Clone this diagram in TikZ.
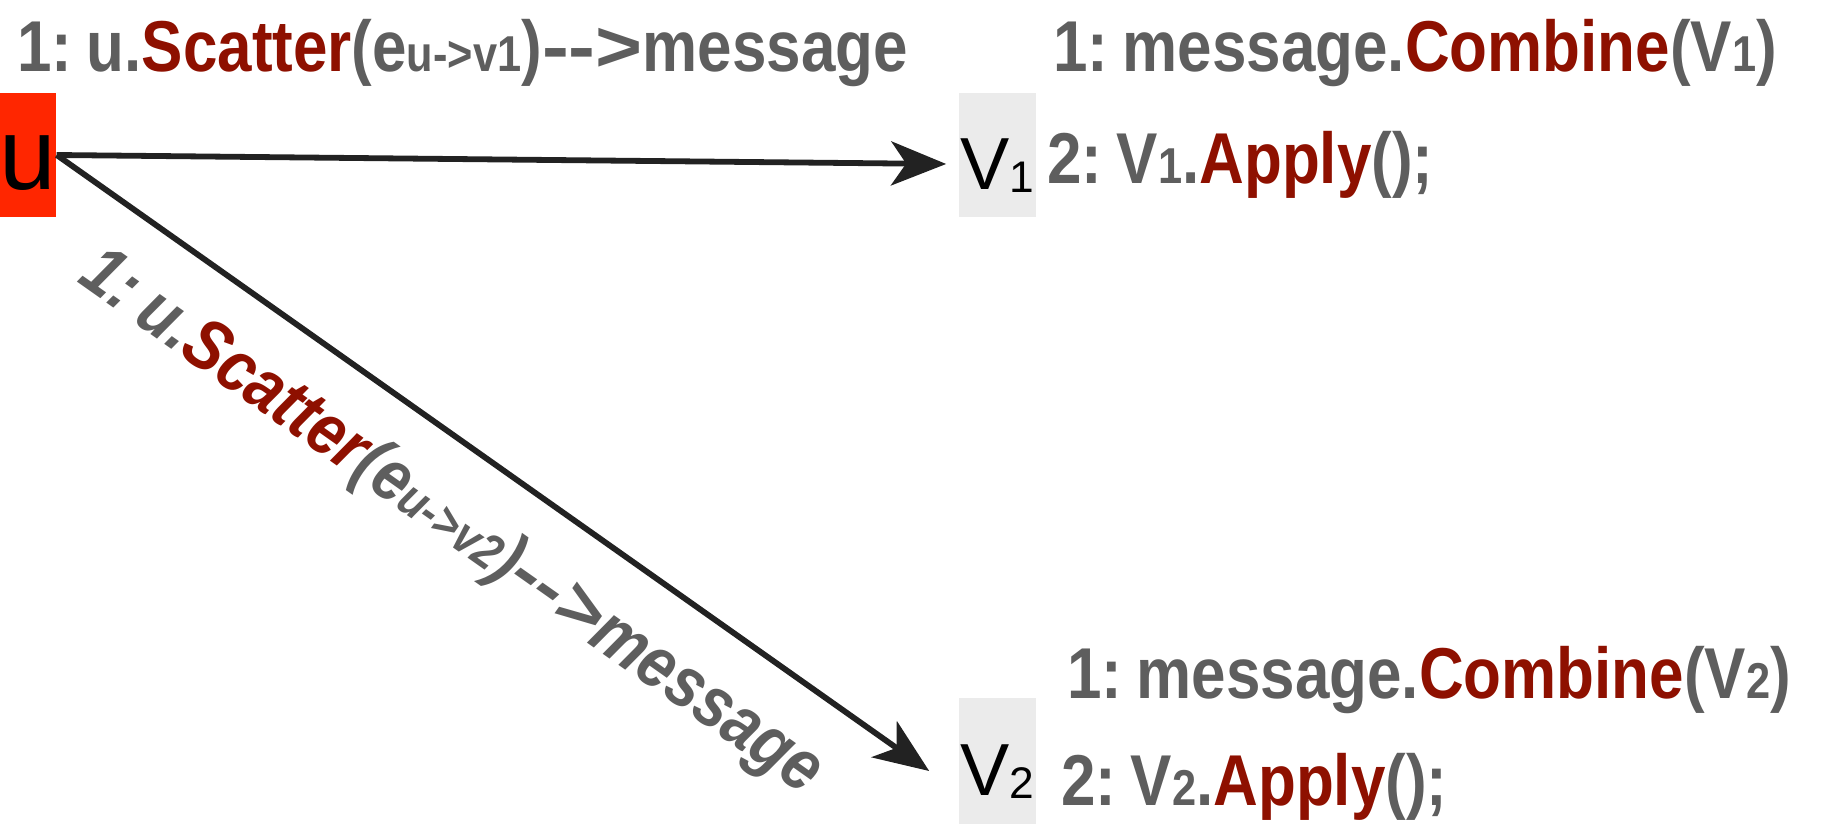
\documentclass[tikz,border=0pt]{standalone}
\usepackage{fontspec}
\setmainfont{Liberation Sans}[Ligatures=TeXOff]
\newfontfamily\condfont{Liberation Sans}[FakeStretch=0.86,WordSpace=0.5,Ligatures=TeXOff]
\usetikzlibrary{arrows.meta, positioning}

\definecolor{txtGray}{HTML}{5E5E5E}
\definecolor{fnRed}{HTML}{8E1000}
\definecolor{uRed}{HTML}{FF2600}
\definecolor{vGray}{HTML}{EBEBEB}
\definecolor{edgeDark}{HTML}{222222}

\newcommand{\subtxt}[1]{\scalebox{0.7}{#1}}
\newcommand{\vsub}[1]{\raisebox{-0.06cm}{\scalebox{0.6}{#1}}}
\newcommand{\fn}[1]{\textcolor{fnRed}{#1}}
\newcommand{\sendto}{\scalebox{1.3}[1]{-->}}

\begin{document}
\begin{tikzpicture}[
  x=0.02cm, y=-0.02cm,
  font=\fontsize{42pt}{48pt}\selectfont,
  vertex/.style={
    minimum width=1.54cm, minimum height=2.48cm, inner sep=0pt,
    text height=1.4cm, text depth=0pt
  },
  code/.style={
    font=\condfont\bfseries\fontsize{41pt}{47pt}\selectfont,
    text=txtGray, inner sep=0pt, anchor=base west
  },
  edge/.style={
    draw=edgeDark, line width=3.3pt,
    -{Stealth[length=1.1cm, width=0.88cm, inset=0.3cm]}
  }
]
  \useasboundingbox (0,0) rectangle (1829,837);

  % vertices
  \node[vertex, fill=uRed, minimum width=1.12cm, font=\fontsize{58pt}{64pt}\selectfont] (u) at (28,155) {u};
  \node[vertex, fill=vGray] (v1) at (997,155) {V\vsub{1}};
  \node[vertex, fill=vGray, minimum height=2.52cm] (v2) at (997,761) {V\vsub{2}};

  % code lines
  \node[code] (scat1) at (17,72) {1: u.\fn{Scatter}(e\subtxt{u->v1})\sendto message};
  \node[code] (comb1) at (1053,72) {1: message.\fn{Combine}(V\subtxt{1})};
  \node[code] (appl1) at (1047,184) {2: V\subtxt{1}.\fn{Apply}();};
  \node[code] (comb2) at (1067,698) {1: message.\fn{Combine}(V\subtxt{2})};
  \node[code] (appl2) at (1061,805) {2: V\subtxt{2}.\fn{Apply}();};

  % edges
  \draw[edge] (u.east) -- ([xshift=-0.24cm, yshift=-0.18cm]v1.west);
  \draw[edge] (u.east) -- ([xshift=-0.58cm, yshift=-0.2cm]v2.west)
    node[code, sloped, pos=0.5, below=0.74cm,
      font=\condfont\bfseries\itshape\fontsize{41pt}{47pt}\selectfont] (scat2)
      {1: u.\fn{Scatter}(e\subtxt{u->v2})\sendto message};
\end{tikzpicture}
\end{document}
